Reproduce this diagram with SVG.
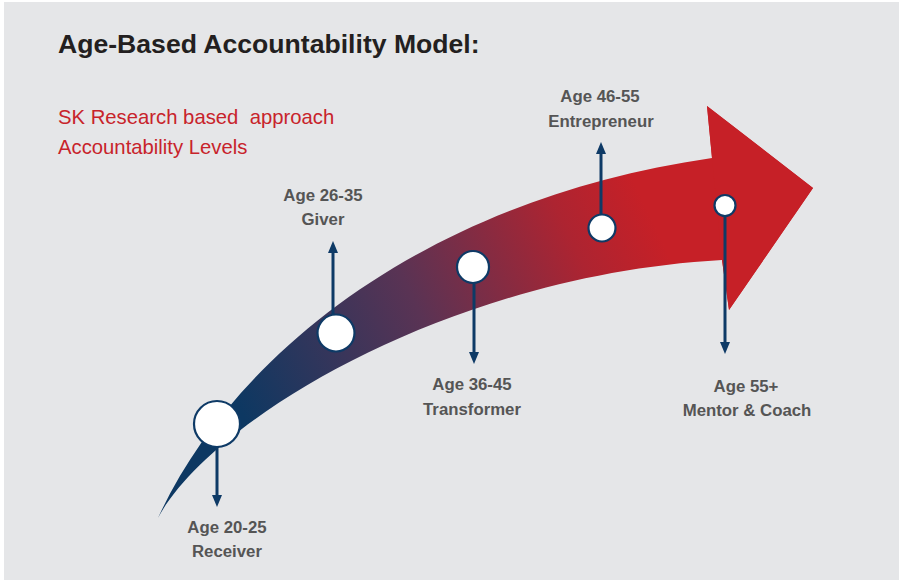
<svg xmlns="http://www.w3.org/2000/svg" width="899" height="580" viewBox="0 0 899 580">
  <style>
    .title { font-family: "Liberation Sans", Arial, sans-serif; font-weight: bold; font-size: 26.6px; fill: #231f20; }
    .sub { font-family: "Liberation Sans", Arial, sans-serif; font-size: 20.3px; fill: #c8232b; white-space: pre; }
    .lbl { font-family: "Liberation Sans", Arial, sans-serif; font-weight: bold; font-size: 16.8px; fill: #555555; text-anchor: middle; }
    .dot { fill: #ffffff; stroke: #0e3a66; stroke-width: 2.2; }
    .conn { stroke: #0e3a66; stroke-width: 3; fill: none; marker-end: url(#ah); }
  </style>
  <defs>
    <linearGradient id="bandGrad" gradientUnits="userSpaceOnUse" x1="240" y1="410" x2="650" y2="215">
      <stop offset="0" stop-color="#0d3862"/>
      <stop offset="0.45" stop-color="#5a3354"/>
      <stop offset="0.82" stop-color="#ad2431"/>
      <stop offset="1" stop-color="#c62027"/>
    </linearGradient>
    <marker id="ah" viewBox="0 -5 12 10" refX="0" refY="0" markerWidth="12" markerHeight="10" markerUnits="userSpaceOnUse" orient="auto">
      <path d="M0,-5 L12,0 L0,5 z" fill="#0e3a66"/>
    </marker>
  </defs>

  <rect x="0" y="0" width="899" height="580" fill="#ffffff"/>
  <rect x="4" y="2" width="895" height="578" fill="#e5e6e8"/>

  <text class="title" x="58" y="53">Age-Based Accountability Model:</text>
  <text class="sub" x="58" y="124">SK Research based  approach</text>
  <text class="sub" x="58" y="154">Accountability Levels</text>

  <g id="big-arrow">
    <path d="M158,518 C230,360 420,200 712,158 L707,106 L813,188 L729,310 L722,260 C450,275 210,420 158,518 Z" fill="url(#bandGrad)"/>
    <path d="M712,158 L707,106 L813,188 L729,310 L722,260 Z" fill="#c62027"/>
  </g>

  <g id="connectors">
    <line class="conn" x1="217" y1="447" x2="217" y2="495"/>
    <line class="conn" x1="333" y1="318" x2="333" y2="253"/>
    <line class="conn" x1="474" y1="284" x2="474" y2="352"/>
    <line class="conn" x1="601" y1="215" x2="601" y2="154"/>
    <line class="conn" x1="725" y1="216" x2="725" y2="342"/>
  </g>

  <g id="receiver">
    <circle class="dot" cx="217" cy="424" r="23"/>
    <text class="lbl" x="227" y="533">Age 20-25</text>
    <text class="lbl" x="227" y="557">Receiver</text>
  </g>
  <g id="giver">
    <circle class="dot" cx="336" cy="333" r="18.5"/>
    <text class="lbl" x="323" y="201">Age 26-35</text>
    <text class="lbl" x="323" y="225">Giver</text>
  </g>
  <g id="transformer">
    <circle class="dot" cx="473" cy="267" r="16"/>
    <text class="lbl" x="472" y="390">Age 36-45</text>
    <text class="lbl" x="472" y="415">Transformer</text>
  </g>
  <g id="entrepreneur">
    <circle class="dot" cx="602" cy="228" r="13.5"/>
    <text class="lbl" x="600" y="102">Age 46-55</text>
    <text class="lbl" x="601" y="127">Entrepreneur</text>
  </g>
  <g id="mentor-coach">
    <circle class="dot" cx="725" cy="205.5" r="10.5"/>
    <text class="lbl" x="746" y="392">Age 55+</text>
    <text class="lbl" x="747" y="416">Mentor &amp; Coach</text>
  </g>
</svg>
